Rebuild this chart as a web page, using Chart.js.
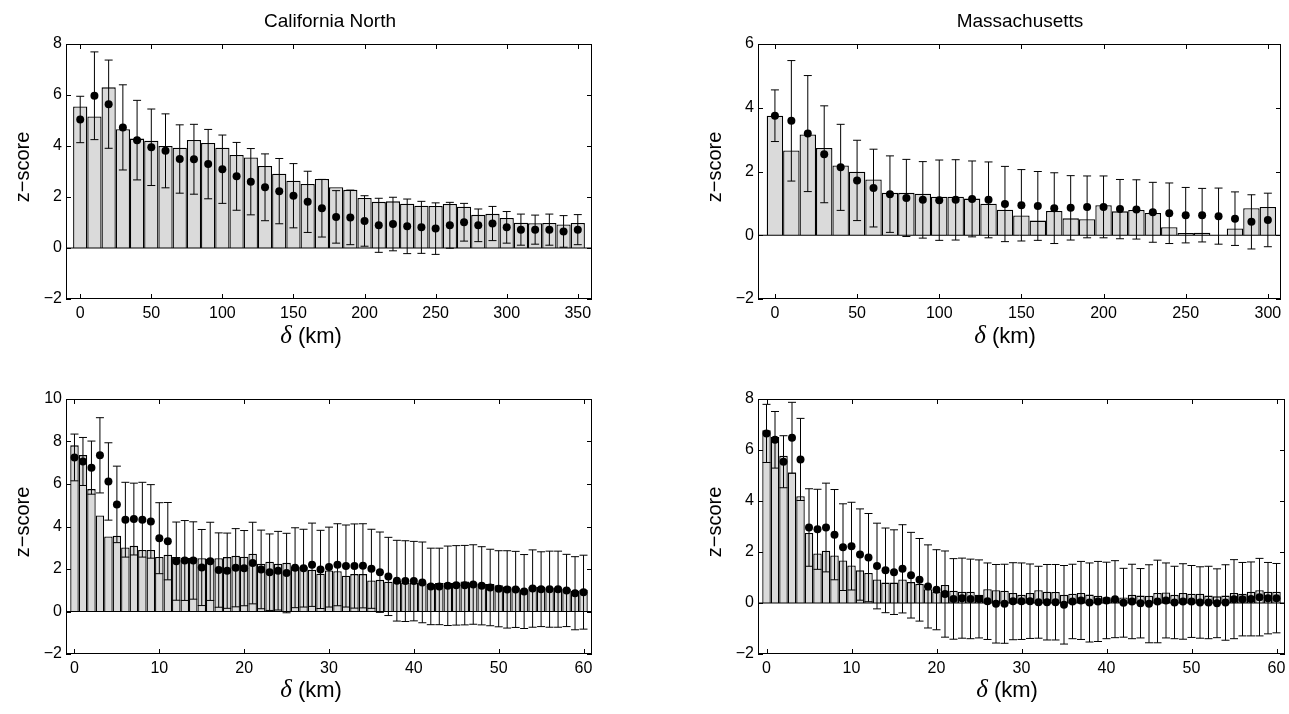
<!DOCTYPE html>
<html>
<head>
<meta charset="utf-8">
<title>z-score vs distance</title>
<script src="https://cdn.jsdelivr.net/npm/chart.js@4/dist/chart.umd.min.js"></script>
<style>
  html, body { margin: 0; padding: 0; background: #fff; }
  #page { position: relative; width: 1289px; height: 714px; overflow: hidden; background: #fff;
          font-family: 'Liberation Sans', Arial, Helvetica, sans-serif; color: #000; }
  canvas { position: absolute; }
  .lbl { position: absolute; white-space: nowrap; transform: translate(-50%, -50%); line-height: 1; }
  .title { font-size: 19px; }
  .xlab { font-size: 22px; }
  .xlab i { font-family: 'Liberation Serif', 'DejaVu Serif', serif; font-size: 25px; }
  .ylab { font-size: 20px; transform: translate(-50%, -50%) rotate(-90deg); }
</style>
</head>
<body>
<div id="page">
  <canvas id="caKm"></canvas>
  <canvas id="maKm"></canvas>
  <canvas id="caFine"></canvas>
  <canvas id="maFine"></canvas>

  <div class="lbl title" style="left:330px; top:20px;">California North</div>
  <div class="lbl title" style="left:1020px; top:20px;">Massachusetts</div>

  <div class="lbl xlab" style="left:311px; top:334px;"><i>δ</i> (km)</div>
  <div class="lbl xlab" style="left:1005px; top:334px;"><i>δ</i> (km)</div>
  <div class="lbl xlab" style="left:311px; top:688px;"><i>δ</i> (km)</div>
  <div class="lbl xlab" style="left:1007px; top:688px;"><i>δ</i> (km)</div>

  <div class="lbl ylab" style="left:22px; top:167px;">z−score</div>
  <div class="lbl ylab" style="left:714px; top:167px;">z−score</div>
  <div class="lbl ylab" style="left:22px; top:522px;">z−score</div>
  <div class="lbl ylab" style="left:714px; top:522px;">z−score</div>
</div>

<script>
// ---------- California North, 10 km bins (0 .. 350 km) ----------
const caKmDist = [0, 10, 20, 30, 40, 50, 60, 70, 80, 90, 100, 110, 120, 130, 140, 150, 160, 170,
                  180, 190, 200, 210, 220, 230, 240, 250, 260, 270, 280, 290, 300, 310, 320, 330, 340, 350];
const caKmBars = [5.55, 5.16, 6.30, 4.66, 4.29, 4.21, 4.00, 3.93, 4.24, 4.12, 3.93, 3.65, 3.55, 3.22, 2.91, 2.64, 2.51, 2.71,
                  2.38, 2.28, 1.96, 1.81, 1.83, 1.74, 1.66, 1.65, 1.73, 1.62, 1.30, 1.34, 1.18, 0.99, 0.97, 0.98, 0.92, 0.98];
const caKmMean = [5.04, 5.97, 5.64, 4.73, 4.23, 3.95, 3.81, 3.49, 3.48, 3.29, 3.09, 2.81, 2.60, 2.38, 2.23, 2.05, 1.81, 1.56,
                  1.22, 1.20, 1.06, 0.89, 0.94, 0.85, 0.81, 0.76, 0.89, 1.01, 0.89, 0.96, 0.81, 0.72, 0.72, 0.72, 0.65, 0.72];
const caKmErr  = [0.91, 1.72, 1.73, 1.67, 1.56, 1.50, 1.45, 1.34, 1.37, 1.36, 1.34, 1.33, 1.30, 1.31, 1.28, 1.26, 1.20, 1.13,
                  1.03, 1.07, 0.99, 1.06, 1.05, 1.07, 1.02, 1.01, 0.90, 0.74, 0.64, 0.67, 0.62, 0.61, 0.57, 0.61, 0.62, 0.59];

// ---------- Massachusetts, 10 km bins (0 .. 300 km) ----------
const maKmDist = [0, 10, 20, 30, 40, 50, 60, 70, 80, 90, 100, 110, 120, 130, 140, 150,
                  160, 170, 180, 190, 200, 210, 220, 230, 240, 250, 260, 270, 280, 290, 300];
const maKmBars = [3.75, 2.66, 3.16, 2.74, 2.19, 1.99, 1.75, 1.33, 1.33, 1.30, 1.21, 1.21, 1.15, 0.99, 0.80, 0.62,
                  0.46, 0.76, 0.53, 0.50, 0.94, 0.75, 0.79, 0.70, 0.25, 0.07, 0.08, 0.00, 0.21, 0.85, 0.89];
const maKmMean = [3.75, 3.59, 3.19, 2.54, 2.13, 1.72, 1.48, 1.29, 1.17, 1.11, 1.10, 1.11, 1.14, 1.11, 0.98, 0.94,
                  0.92, 0.85, 0.86, 0.89, 0.89, 0.82, 0.81, 0.72, 0.69, 0.63, 0.63, 0.60, 0.52, 0.42, 0.48];
const maKmErr  = [0.81, 1.89, 1.82, 1.52, 1.35, 1.26, 1.22, 1.20, 1.21, 1.20, 1.26, 1.26, 1.19, 1.19, 1.18, 1.12,
                  1.08, 1.11, 1.01, 0.97, 0.97, 0.93, 0.93, 0.94, 0.95, 0.87, 0.84, 0.88, 0.84, 0.85, 0.84];

// ---------- 1 km bins (0 .. 60 km), shared distances ----------
const fineDist = [0, 1, 2, 3, 4, 5, 6, 7, 8, 9, 10, 11, 12, 13, 14, 15, 16, 17, 18, 19, 20,
                  21, 22, 23, 24, 25, 26, 27, 28, 29, 30, 31, 32, 33, 34, 35, 36, 37, 38, 39, 40,
                  41, 42, 43, 44, 45, 46, 47, 48, 49, 50, 51, 52, 53, 54, 55, 56, 57, 58, 59, 60];

const caFineBars = [7.82, 7.36, 5.76, 4.52, 3.53, 3.56, 3.01, 3.09, 2.90, 2.90, 2.57, 2.67, 2.56, 2.53, 2.53, 2.51, 2.48, 2.51, 2.56, 2.62, 2.58,
                    2.72, 2.25, 2.34, 2.25, 2.29, 2.12, 2.09, 1.96, 1.78, 1.93, 1.90, 1.68, 1.76, 1.76, 1.46, 1.49, 1.40, 1.43, 1.35, 1.34,
                    1.35, 1.30, 1.34, 1.34, 1.35, 1.41, 1.37, 1.30, 1.29, 1.23, 1.18, 1.12, 1.04, 1.15, 1.15, 1.12, 1.13, 1.07, 0.96, 1.02];
const caFineMean = [7.25, 7.06, 6.77, 7.35, 6.12, 5.04, 4.32, 4.35, 4.32, 4.24, 3.45, 3.31, 2.37, 2.40, 2.40, 2.07, 2.36, 1.95, 1.92, 2.06, 2.04,
                    2.28, 1.98, 1.85, 1.92, 1.81, 2.06, 2.04, 2.20, 1.98, 2.09, 2.20, 2.14, 2.14, 2.15, 2.01, 1.85, 1.65, 1.45, 1.43, 1.43,
                    1.37, 1.18, 1.18, 1.21, 1.23, 1.24, 1.27, 1.21, 1.13, 1.07, 1.04, 1.04, 0.94, 1.08, 1.05, 1.05, 1.05, 0.99, 0.86, 0.91];
const caFineErr  = [1.10, 1.13, 1.25, 1.77, 1.82, 1.80, 1.76, 1.69, 1.76, 1.73, 1.67, 1.82, 1.84, 1.88, 1.82, 1.79, 1.84, 1.75, 1.77, 1.84, 1.77,
                    1.92, 1.85, 1.80, 1.85, 1.87, 1.88, 1.83, 1.96, 1.84, 1.88, 1.93, 1.93, 1.98, 1.98, 1.86, 1.89, 1.84, 1.90, 1.90, 1.87,
                    1.90, 1.80, 1.80, 1.87, 1.87, 1.87, 1.87, 1.84, 1.80, 1.79, 1.82, 1.79, 1.74, 1.82, 1.76, 1.79, 1.79, 1.70, 1.72, 1.74];

const maFineBars = [6.77, 6.51, 5.77, 5.12, 4.19, 2.75, 1.94, 2.05, 1.86, 1.67, 1.47, 1.28, 1.18, 0.92, 0.80, 0.80, 0.92, 0.82, 0.75, 0.54, 0.44,
                    0.71, 0.48, 0.44, 0.44, 0.32, 0.54, 0.50, 0.48, 0.39, 0.32, 0.39, 0.50, 0.44, 0.43, 0.32, 0.36, 0.39, 0.33, 0.28, 0.23,
                    0.19, 0.22, 0.32, 0.29, 0.28, 0.39, 0.41, 0.32, 0.39, 0.36, 0.36, 0.29, 0.26, 0.29, 0.39, 0.36, 0.44, 0.50, 0.44, 0.44];
const maFineMean = [6.65, 6.40, 5.54, 6.48, 5.63, 2.96, 2.89, 2.96, 2.68, 2.19, 2.23, 1.90, 1.78, 1.45, 1.28, 1.21, 1.34, 1.09, 0.91, 0.65, 0.52,
                    0.35, 0.16, 0.19, 0.16, 0.16, 0.07, -0.03, -0.03, 0.07, 0.07, 0.07, 0.03, 0.03, 0.03, -0.07, 0.06, 0.10, 0.02, 0.06, 0.10,
                    0.15, 0.01, 0.06, -0.01, -0.03, 0.06, 0.10, 0.02, 0.06, 0.06, 0.02, 0.02, -0.01, 0.02, 0.15, 0.15, 0.16, 0.23, 0.19, 0.19];
const maFineErr  = [1.14, 1.11, 1.02, 1.39, 1.61, 1.52, 1.57, 1.74, 1.77, 1.70, 1.72, 1.79, 1.73, 1.68, 1.66, 1.66, 1.73, 1.68, 1.62, 1.63, 1.57,
                    1.69, 1.58, 1.57, 1.56, 1.53, 1.50, 1.54, 1.55, 1.51, 1.50, 1.46, 1.41, 1.48, 1.48, 1.54, 1.46, 1.53, 1.55, 1.57, 1.50,
                    1.51, 1.35, 1.46, 1.36, 1.53, 1.62, 1.47, 1.42, 1.48, 1.41, 1.40, 1.42, 1.35, 1.48, 1.55, 1.44, 1.45, 1.52, 1.40, 1.36];

// ---------- tick values ----------
const xTicksCaKm = [0, 50, 100, 150, 200, 250, 300, 350];
const xTicksMaKm = [0, 50, 100, 150, 200, 250, 300];
const xTicksFine = [0, 10, 20, 30, 40, 50, 60];
const yTicksCaKm = [-2, 0, 2, 4, 6, 8];
const yTicksMaKm = [-2, 0, 2, 4, 6];
const yTicksCaFine = [-2, 0, 2, 4, 6, 8, 10];
const yTicksMaFine = [-2, 0, 2, 4, 6, 8];

// ---------- drawing ----------
const FONT = "'Liberation Sans', Arial, Helvetica, sans-serif";
const AXIS_W = 50, AXIS_H = 30, PAD_TOP = 14, PAD_RIGHT = 10, TICK_LEN = 5;

// Box around the plot area with inward tick marks on all four sides.
const axesBox = {
  id: 'axesBox',
  afterDatasetsDraw(chart) {
    const { ctx, chartArea: a, scales: { x, y } } = chart;
    ctx.save();
    ctx.strokeStyle = '#000';
    ctx.lineWidth = 1;
    ctx.beginPath();
    x.ticks.forEach(t => {
      const px = Math.round(x.getPixelForValue(t.value)) + 0.5;
      ctx.moveTo(px, a.bottom); ctx.lineTo(px, a.bottom - TICK_LEN);
      ctx.moveTo(px, a.top); ctx.lineTo(px, a.top + TICK_LEN);
    });
    y.ticks.forEach(t => {
      const py = Math.round(y.getPixelForValue(t.value)) + 0.5;
      ctx.moveTo(a.left, py); ctx.lineTo(a.left + TICK_LEN, py);
      ctx.moveTo(a.right, py); ctx.lineTo(a.right - TICK_LEN, py);
    });
    ctx.stroke();
    ctx.strokeRect(a.left + 0.5, a.top + 0.5, a.right - a.left - 1, a.bottom - a.top - 1);
    ctx.restore();
  }
};

function makePanel(id, box, dist, bars, mean, err, xMin, xMax, yMin, yMax, xTicks, yTicks) {
  const cv = document.getElementById(id);
  const W = box.R - box.L + AXIS_W + PAD_RIGHT;
  const H = box.B - box.T + PAD_TOP + AXIS_H;
  cv.width = W; cv.height = H;
  cv.style.left = (box.L - AXIS_W) + 'px';
  cv.style.top = (box.T - PAD_TOP) + 'px';
  cv.style.width = W + 'px'; cv.style.height = H + 'px';

  const barData = dist.map((d, i) => ({ x: d, y: bars[i] }));
  const dotData = dist.map((d, i) => ({ x: d, y: mean[i] }));
  const errData = [];
  dist.forEach((d, i) => {
    errData.push({ x: d, y: mean[i] - err[i] });
    errData.push({ x: d, y: mean[i] + err[i] });
    errData.push({ x: d, y: null });
  });

  return new Chart(cv, {
    type: 'bar',
    data: {
      datasets: [
        {
          type: 'bar', data: barData, order: 4,
          backgroundColor: '#dadada', borderColor: '#000', borderWidth: 1.3,
          borderSkipped: 'start', barPercentage: 1, categoryPercentage: 1, inflateAmount: 0
        },
        {
          type: 'line', data: [{ x: xMin, y: 0 }, { x: xMax, y: 0 }], order: 3,
          borderColor: '#000', borderWidth: 1, pointRadius: 0
        },
        {
          type: 'line', data: errData, order: 2, spanGaps: false,
          borderColor: '#000', borderWidth: 1,
          pointStyle: 'line', pointRadius: 4, pointBorderColor: '#000', pointBorderWidth: 1
        },
        {
          type: 'scatter', data: dotData, order: 1,
          pointRadius: 4, pointBackgroundColor: '#000', pointBorderWidth: 0
        }
      ]
    },
    options: {
      responsive: false, animation: false, devicePixelRatio: 1,
      layout: { padding: { top: PAD_TOP, right: PAD_RIGHT, left: 0, bottom: 0 } },
      plugins: { legend: { display: false }, tooltip: { enabled: false } },
      scales: {
        x: {
          type: 'linear', min: xMin, max: xMax, offset: false,
          grid: { display: false, drawTicks: false }, border: { display: false },
          afterBuildTicks: s => { s.ticks = xTicks.map(v => ({ value: v })); },
          afterFit: s => { s.height = AXIS_H; s.paddingLeft = 0; s.paddingRight = 0; },
          ticks: { color: '#000', padding: 5, maxRotation: 0, autoSkip: false,
                   font: { family: FONT, size: 16 } }
        },
        y: {
          type: 'linear', min: yMin, max: yMax,
          grid: { display: false, drawTicks: false }, border: { display: false },
          afterBuildTicks: s => { s.ticks = yTicks.map(v => ({ value: v })); },
          afterFit: s => { s.width = AXIS_W; s.paddingTop = 0; s.paddingBottom = 0; },
          ticks: { color: '#000', padding: 4, autoSkip: false,
                   font: { family: FONT, size: 16 },
                   callback: v => String(v).replace('-', '\u2212') }
        }
      }
    },
    plugins: [axesBox]
  });
}

makePanel('caKm',   { L: 66,  T: 44,  R: 592,  B: 299 }, caKmDist, caKmBars, caKmMean, caKmErr, -10, 360, -2, 8,  xTicksCaKm, yTicksCaKm);
makePanel('maKm',   { L: 758, T: 44,  R: 1281, B: 299 }, maKmDist, maKmBars, maKmMean, maKmErr, -10.3, 308, -2, 6, xTicksMaKm, yTicksMaKm);
makePanel('caFine', { L: 66,  T: 399, R: 592,  B: 654 }, fineDist, caFineBars, caFineMean, caFineErr, -1, 61, -2, 10, xTicksFine, yTicksCaFine);
makePanel('maFine', { L: 758, T: 399, R: 1285, B: 654 }, fineDist, maFineBars, maFineMean, maFineErr, -1, 61, -2, 8,  xTicksFine, yTicksMaFine);
</script>
</body>
</html>
